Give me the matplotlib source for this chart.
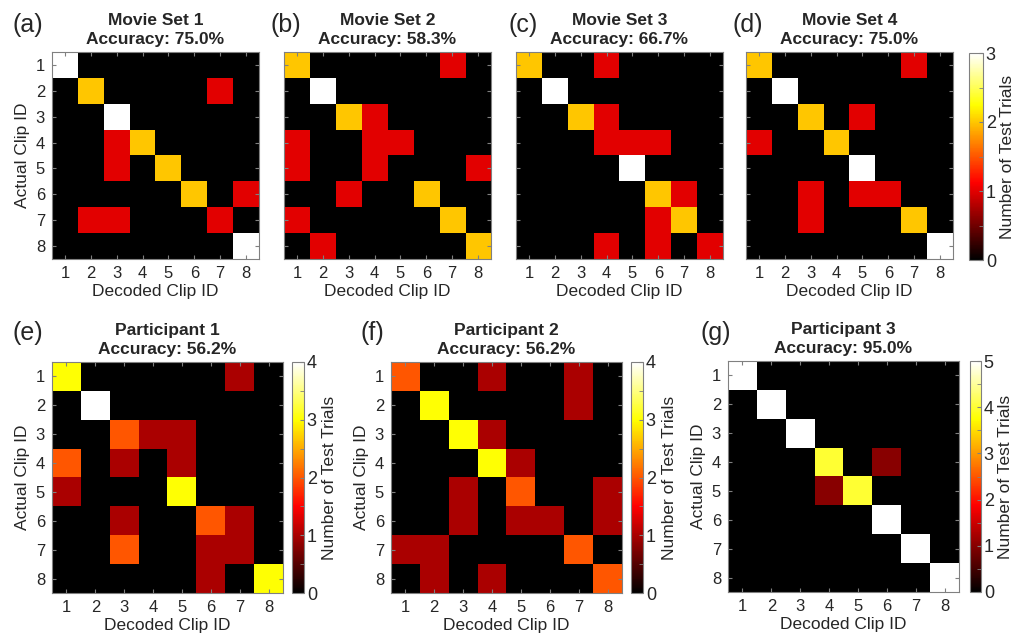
import matplotlib
matplotlib.use('Agg')
import matplotlib.pyplot as plt
import numpy as np
from matplotlib.colors import LinearSegmentedColormap
from matplotlib.ticker import MultipleLocator, NullFormatter

plt.rcParams['font.family'] = ['Liberation Sans', 'DejaVu Sans']
plt.rcParams['text.color'] = '#262626'
plt.rcParams['axes.labelcolor'] = '#262626'
plt.rcParams['xtick.color'] = '#262626'
plt.rcParams['ytick.color'] = '#262626'

clip_ids = [1, 2, 3, 4, 5, 6, 7, 8]

# rows = actual clip, cols = decoded clip
set1 = [[3, 0, 0, 0, 0, 0, 0, 0],
        [0, 2, 0, 0, 0, 0, 1, 0],
        [0, 0, 3, 0, 0, 0, 0, 0],
        [0, 0, 1, 2, 0, 0, 0, 0],
        [0, 0, 1, 0, 2, 0, 0, 0],
        [0, 0, 0, 0, 0, 2, 0, 1],
        [0, 1, 1, 0, 0, 0, 1, 0],
        [0, 0, 0, 0, 0, 0, 0, 3]]
set2 = [[2, 0, 0, 0, 0, 0, 1, 0],
        [0, 3, 0, 0, 0, 0, 0, 0],
        [0, 0, 2, 1, 0, 0, 0, 0],
        [1, 0, 0, 1, 1, 0, 0, 0],
        [1, 0, 0, 1, 0, 0, 0, 1],
        [0, 0, 1, 0, 0, 2, 0, 0],
        [1, 0, 0, 0, 0, 0, 2, 0],
        [0, 1, 0, 0, 0, 0, 0, 2]]
set3 = [[2, 0, 0, 1, 0, 0, 0, 0],
        [0, 3, 0, 0, 0, 0, 0, 0],
        [0, 0, 2, 1, 0, 0, 0, 0],
        [0, 0, 0, 1, 1, 1, 0, 0],
        [0, 0, 0, 0, 3, 0, 0, 0],
        [0, 0, 0, 0, 0, 2, 1, 0],
        [0, 0, 0, 0, 0, 1, 2, 0],
        [0, 0, 0, 1, 0, 1, 0, 1]]
set4 = [[2, 0, 0, 0, 0, 0, 1, 0],
        [0, 3, 0, 0, 0, 0, 0, 0],
        [0, 0, 2, 0, 1, 0, 0, 0],
        [1, 0, 0, 2, 0, 0, 0, 0],
        [0, 0, 0, 0, 3, 0, 0, 0],
        [0, 0, 1, 0, 1, 1, 0, 0],
        [0, 0, 1, 0, 0, 0, 2, 0],
        [0, 0, 0, 0, 0, 0, 0, 3]]
part1 = [[3, 0, 0, 0, 0, 0, 1, 0],
         [0, 4, 0, 0, 0, 0, 0, 0],
         [0, 0, 2, 1, 1, 0, 0, 0],
         [2, 0, 1, 0, 1, 0, 0, 0],
         [1, 0, 0, 0, 3, 0, 0, 0],
         [0, 0, 1, 0, 0, 2, 1, 0],
         [0, 0, 2, 0, 0, 1, 1, 0],
         [0, 0, 0, 0, 0, 1, 0, 3]]
part2 = [[2, 0, 0, 1, 0, 0, 1, 0],
         [0, 3, 0, 0, 0, 0, 1, 0],
         [0, 0, 3, 1, 0, 0, 0, 0],
         [0, 0, 0, 3, 1, 0, 0, 0],
         [0, 0, 1, 0, 2, 0, 0, 1],
         [0, 0, 1, 0, 1, 1, 0, 1],
         [1, 1, 0, 0, 0, 0, 2, 0],
         [0, 1, 0, 1, 0, 0, 0, 2]]
part3 = [[5, 0, 0, 0, 0, 0, 0, 0],
         [0, 5, 0, 0, 0, 0, 0, 0],
         [0, 0, 5, 0, 0, 0, 0, 0],
         [0, 0, 0, 4, 0, 1, 0, 0],
         [0, 0, 0, 1, 4, 0, 0, 0],
         [0, 0, 0, 0, 0, 5, 0, 0],
         [0, 0, 0, 0, 0, 0, 5, 0],
         [0, 0, 0, 0, 0, 0, 0, 5]]

titles = ['Movie Set 1', 'Movie Set 2', 'Movie Set 3', 'Movie Set 4',
          'Participant 1', 'Participant 2', 'Participant 3']
accuracies = ['75.0%', '58.3%', '66.7%', '75.0%', '56.2%', '56.2%', '95.0%']
letters = ['(a)', '(b)', '(c)', '(d)', '(e)', '(f)', '(g)']
vmaxes = [3, 3, 3, 3, 4, 4, 5]

# matlab style hot colormap
hot = LinearSegmentedColormap('mhot', {
    'red':   [(0, 0, 0), (0.375, 1, 1), (1, 1, 1)],
    'green': [(0, 0, 0), (0.375, 0, 0), (0.75, 1, 1), (1, 1, 1)],
    'blue':  [(0, 0, 0), (0.75, 0, 0), (1, 1, 1)]})

W, H = 1016, 635
fig = plt.figure(figsize=(W / 100, H / 100), dpi=100)

def px(x, y, w, h):
    return [x / W, (H - y - h) / H, w / W, h / H]

# axes boxes in pixels: x, y_top, size
boxes = [(52, 52, 207), (284, 52, 207), (516, 52, 207), (746, 52, 207),
         (52, 362, 231), (391, 362, 231), (728, 361, 231)]
cbars = {3: (969, 53, 14, 207), 4: (292, 362, 12, 231),
         5: (631, 362, 12, 231), 6: (970, 361, 11, 231)}
cbar_label_x = {3: 1008, 4: 330, 5: 669, 6: 1006}
letter_pos = [(13, 25), (270, 25), (509, 25), (733, 25),
              (13, 333), (360, 333), (700, 333)]
ylabeled = [0, 4, 5, 6]

mats = [set1, set2, set3, set4, part1, part2, part3]
for i, m in enumerate(mats):
    x, y, s = boxes[i]
    ax = fig.add_axes(px(x, y, s, s))
    im = ax.imshow(np.array(m), cmap=hot, vmin=0, vmax=vmaxes[i],
                   interpolation='nearest', aspect='auto')
    ax.set_xticks(range(8))
    ax.set_xticklabels(clip_ids, fontsize=12)
    ax.set_yticks(range(8))
    if i in ylabeled:
        ax.set_yticklabels(clip_ids, fontsize=12)
        ax.set_ylabel('Actual Clip ID', fontsize=12.5, labelpad=4)
    else:
        ax.set_yticklabels([])
    ax.set_xlabel('Decoded Clip ID', fontsize=12.5, labelpad=2)
    ax.tick_params(direction='in', length=3, top=True, right=True, pad=5,
                   color='#808080')
    for sp in ax.spines.values():
        sp.set_color('#808080')
    ax.set_title(titles[i] + '\nAccuracy: ' + accuracies[i], fontsize=12.5,
                 fontweight='bold', pad=5.5, linespacing=1.35)
    lx, ly = letter_pos[i]
    fig.text(lx / W, 1 - ly / H, letters[i], fontsize=18, va='center', ha='left')
    if i in cbars:
        cx, cy, cw, ch = cbars[i]
        cax = fig.add_axes(px(cx, cy, cw, ch))
        cb = fig.colorbar(im, cax=cax, ticks=range(vmaxes[i] + 1))
        cb.ax.yaxis.set_minor_locator(MultipleLocator(0.5))
        cb.ax.yaxis.set_minor_formatter(NullFormatter())
        cb.ax.tick_params(which='both', direction='in', length=3, labelsize=13,
                          pad=2, left=False, right=True, color='#808080')
        cb.outline.set_edgecolor('#808080')
        fig.text(cbar_label_x[i] / W, 1 - (cy + ch / 2) / H,
                 'Number of Test Trials', fontsize=12.5, rotation=90,
                 ha='center', va='center')

fig.savefig('out.png', dpi=100)
